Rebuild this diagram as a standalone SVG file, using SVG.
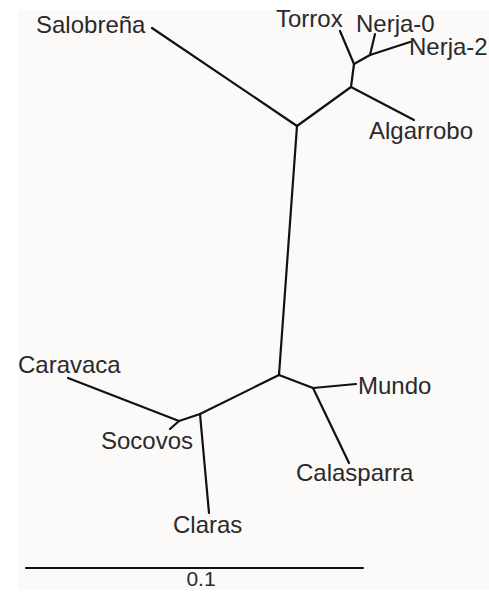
<svg xmlns="http://www.w3.org/2000/svg" width="489" height="592" viewBox="0 0 489 592">
<style>
.e{stroke:#111;stroke-width:2.2;fill:none;stroke-linecap:round;stroke-linejoin:round}
text{font-family:"Liberation Sans",Arial,sans-serif;font-size:24px;fill:#2a2a2a}
</style>
<rect width="489" height="592" fill="#ffffff"/>
<rect x="18" y="10" width="471" height="580" fill="#fcf9f9"/>
<g id="connectors">
<path class="e" d="M297,126 L279,375"/>
<path class="e" d="M152,28 L297,126"/>
<path class="e" d="M297,126 L351,87"/>
<path class="e" d="M351,87 L414,120"/>
<path class="e" d="M351,87 L354,64"/>
<path class="e" d="M354,64 L340,31"/>
<path class="e" d="M354,64 L370,55"/>
<path class="e" d="M370,55 L375,34"/>
<path class="e" d="M370,55 L410,42"/>
<path class="e" d="M279,375 L313,388"/>
<path class="e" d="M313,388 L356,384"/>
<path class="e" d="M313,388 L349,463"/>
<path class="e" d="M279,375 L200,414"/>
<path class="e" d="M200,414 L209,513"/>
<path class="e" d="M200,414 L179,421"/>
<path class="e" d="M179,421 L68,378"/>
<path class="e" d="M179,421 L170,429"/>
</g>
<g id="Salobrena"><text x="36" y="33">Salobreña</text></g>
<g id="Torrox"><text x="276" y="27">Torrox</text></g>
<g id="Nerja-0"><text x="356" y="32">Nerja-0</text></g>
<g id="Nerja-2"><text x="409" y="55">Nerja-2</text></g>
<g id="Algarrobo"><text x="369" y="139">Algarrobo</text></g>
<g id="Caravaca"><text x="18" y="373">Caravaca</text></g>
<g id="Socovos"><text x="101" y="449">Socovos</text></g>
<g id="Claras"><text x="173" y="533">Claras</text></g>
<g id="Mundo"><text x="358" y="394">Mundo</text></g>
<g id="Calasparra"><text x="296" y="481">Calasparra</text></g>
<g id="scalebar">
<path class="e" d="M26,568 L363,568"/>
<text x="201" y="586" text-anchor="middle" style="font-size:21px">0.1</text>
</g>
</svg>
